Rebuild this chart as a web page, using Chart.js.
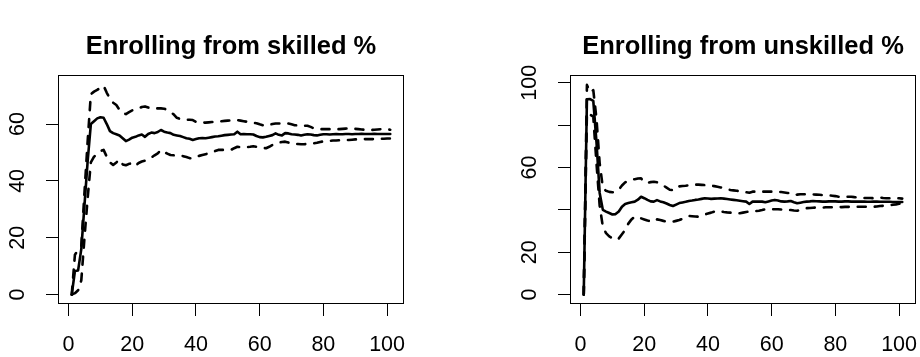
<!DOCTYPE html>
<html>
<head>
<meta charset="utf-8">
<script src="https://cdn.jsdelivr.net/npm/chart.js@4"></script>
<style>
html, body { margin: 0; padding: 0; background: #fff; overflow: hidden; }
#wrap { display: flex; width: 920px; height: 357px; }
canvas { display: block; }
</style>
</head>
<body>
<div id="wrap">
  <canvas id="skilled" width="460" height="357"></canvas>
  <canvas id="unskilled" width="460" height="357"></canvas>
</div>
<script>
// step index 1..101 on the x axis
var steps = Array.from({ length: 101 }, function (_, i) { return i + 1; });

var xTicks = [0, 20, 40, 60, 80, 100];
var skilledYTicks = [0, 20, 40, 60];
var skilledYLabels = ['0', '20', '40', '60'];
var unskilledYTicks = [0, 20, 40, 60, 80, 100];
var unskilledYLabels = ['0', '20', '', '60', '', '100'];

// Enrolling from skilled %
var skilledMean = [
  0, 8.3, 8.5, 16, 31.5, 47, 60, 61, 62, 62.4,
  62.2, 60, 57.5, 56.8, 56.4, 56, 55, 54, 54.5, 55.2,
  55.5, 56, 56.3, 55.5, 56.5, 57, 56.8, 57.2, 57.9, 57.3,
  57, 56.8, 56.2, 56, 55.8, 55.4, 55, 54.8, 54.4, 54.7,
  55, 55.1, 55, 55.2, 55.4, 55.6, 55.7, 55.9, 56.1, 56.2,
  56.3, 56.4, 57.3, 56.4, 56.5, 56.4, 56.4, 56.3, 55.8, 55.4,
  55.3, 55.5, 55.8, 56.1, 56.7, 56.2, 56, 56.8, 56.7, 56.4,
  56.3, 56.2, 56, 56.2, 56.4, 56.3, 56.1, 56, 56.2, 56.4,
  56.4, 56.3, 56.4, 56.5, 56.4, 56.4, 56.5, 56.5, 56.4, 56.5,
  56.5, 56.6, 56.5, 56.5, 56.5, 56.6, 56.5, 56.5, 56.5, 56.5,
  56.5
];
var skilledUpper = [
  0, 14, 15.7, 17, 36, 54, 70.5, 71.4, 72, 72.8,
  73.5, 71, 69, 67.5, 66.7, 65, 63.8, 63.5, 64.2, 64.8,
  65.2, 65.5, 66, 66.2, 65.8, 65.5, 65.5, 65.5, 65.5, 65.4,
  65, 64.2, 63.4, 62.2, 61.8, 61.6, 61.5, 61.5, 61.4, 60.8,
  60.6, 60.5, 60.5, 60.6, 60.7, 60.8, 60.9, 61, 61.1, 61.2,
  61.3, 61.4, 61.4, 61.2, 61, 60.8, 60.6, 60.4, 60.3, 59.9,
  59.6, 59.4, 59.7, 60, 60.2, 60.2, 60.2, 60.2, 60.2, 59.9,
  59.6, 59.5, 59.5, 59.4, 59.4, 59, 58.5, 58.2, 58.2, 58.2,
  58.2, 58.2, 58.2, 58.2, 58.2, 58.3, 58.4, 58.5, 58.5, 58.3,
  58.2, 58.1, 58, 57.9, 57.9, 58, 58.1, 58.2, 58.2, 58.1,
  58
];
var skilledLower = [
  0, 0.5, 1.5, 5, 20, 34, 46.5, 48.5, 49.5, 50.5,
  50.9, 48.5, 46.5, 45.6, 46.5, 47.5, 45.8, 45.5, 46, 46.2,
  45.3, 46.3, 46.8, 47.1, 47.5, 48.2, 49, 49.7, 50.9, 50.2,
  49.6, 49.1, 49, 48.9, 48.9, 48.7, 48.4, 48, 47.9, 48.5,
  48.8, 49.1, 49.4, 49.7, 50.1, 50.5, 50.9, 50.9, 50.9, 50.9,
  50.9, 51.5, 52, 51.9, 51.8, 51.9, 52, 52.2, 52, 51.8,
  51.6, 51.5, 52, 52.6, 53.1, 53.4, 53.7, 53.8, 53.5, 53.1,
  53, 53, 52.9, 52.9, 53, 53.1, 53.2, 53.4, 53.7, 53.9,
  54, 54.1, 54.2, 54.2, 54.3, 54.3, 54.4, 54.4, 54.5, 54.6,
  54.6, 54.6, 54.7, 54.7, 54.7, 54.7, 54.7, 54.8, 54.8, 54.9,
  54.9
];

// Enrolling from unskilled %
var unskilledMean = [
  0, 92.2, 92.3, 91.5, 72, 48, 40, 39.2, 38.5, 37.8,
  38, 39.2, 41.5, 42.8, 43.2, 43.6, 43.9, 44.8, 46.2, 45.5,
  44.7, 44, 43.9, 44.6, 44, 43.6, 43, 42.3, 41.8, 42.5,
  43.2, 43.5, 43.8, 44.2, 44.4, 44.7, 44.9, 45.2, 45.5, 45.4,
  45.2, 45.3, 45.4, 45.5, 45.3, 45.1, 44.9, 44.7, 44.5, 44.3,
  44.1, 43.9, 42.8, 43.9, 43.9, 43.9, 43.9, 43.6, 44, 44.4,
  44.7, 44.4, 44, 43.9, 44, 44.2, 43.6, 43.1, 43.4, 43.7,
  43.9, 44, 44.2, 44.1, 44, 43.9, 43.9, 44, 44.1, 44,
  43.9, 43.9, 44, 44, 43.9, 43.9, 43.9, 43.9, 43.9, 43.8,
  43.8, 43.9, 43.9, 43.8, 43.8, 43.8, 43.8, 43.7, 43.7, 43.7,
  43.7
];
var unskilledUpper = [
  0, 99, 95.5, 96.5, 83, 62, 50.5, 49, 48.5, 48.3,
  48.6, 49.5, 51.5, 53, 53.8, 54.2, 54.5, 54.8, 54.9, 53,
  52.8, 53.1, 53.3, 53, 52.5, 51.5, 50.5, 49.5, 49.3, 50.9,
  51.1, 51.3, 51.4, 51.6, 51.8, 51.9, 51.9, 51.8, 51.7, 51.7,
  51.5, 51.2, 50.9, 50.6, 50.2, 49.8, 49.4, 49.2, 49, 48.9,
  48.6, 48.3, 48.1, 48.6, 48.6, 48.6, 48.6, 48.6, 48.6, 48.6,
  48.6, 48.6, 48.4, 48.2, 48, 47.8, 47, 47.2, 47.4, 47.4,
  47.4, 47.4, 47.3, 47.2, 47.1, 47, 46.9, 46.8, 46.7, 46.5,
  46.2, 46.2, 46.2, 46.2, 46.2, 46, 45.9, 45.7, 45.6, 45.6,
  45.6, 45.5, 45.5, 45.8, 45.6, 45.5, 45.5, 45.5, 45.5, 45.5,
  45.3
];
var unskilledLower = [
  0, 86, 85, 84, 62, 42, 32, 29, 27.5, 26.6,
  25.8, 26.5, 28.5, 30.5, 33.5, 35.5, 36.8, 36.8, 36, 35.5,
  35, 34.6, 34.4, 35.5, 35.2, 34.8, 34.5, 34.4, 34.4, 34.8,
  35.2, 35.8, 36.5, 37.1, 37, 36.9, 36.8, 37.3, 37.8, 38.3,
  38.7, 39.2, 39.6, 39.3, 39, 38.8, 38.7, 38.6, 38.5, 38.4,
  38.7, 39, 39.2, 39.3, 39.4, 39.6, 39.9, 40.3, 40.3, 40.3,
  40.3, 40.3, 40.2, 40.1, 40, 39.9, 39.7, 39.6, 40, 40.4,
  40.8, 40.9, 41, 41.1, 41.1, 41.1, 41.2, 41.2, 41.2, 41.2,
  41.3, 41.3, 41.4, 41.4, 41.5, 41.5, 41.5, 41.5, 41.5, 41.5,
  41.5, 41.5, 41.6, 41.8, 41.9, 42, 42.2, 42.4, 42.6, 42.9,
  43.1
];

Chart.defaults.font.family = "'Liberation Sans', Arial, Helvetica, sans-serif";
Chart.defaults.color = '#000';

// R style box around the plot region
var boxPlugin = {
  id: 'box',
  afterDatasetsDraw: function (chart) {
    var a = chart.chartArea, ctx = chart.ctx;
    ctx.save();
    ctx.strokeStyle = '#000';
    ctx.lineWidth = 1;
    ctx.strokeRect(Math.round(a.left) - 0.5, Math.round(a.top) - 0.5,
      Math.round(a.right - a.left) + 1, Math.round(a.bottom - a.top) + 1);
    ctx.restore();
  }
};

function series(values, dashed) {
  return {
    data: values.map(function (v, i) { return { x: steps[i], y: v }; }),
    borderColor: '#000',
    borderWidth: 2.6,
    borderDash: dashed ? [8, 9] : [],
    borderCapStyle: 'round',
    borderJoinStyle: 'round',
    pointRadius: 0,
    tension: 0,
    fill: false
  };
}

function buildPanel(id, title, mean, upper, lower, yTicks, yLabels, yMin, yMax, axisWidth, labelPad, rightPad) {
  return new Chart(document.getElementById(id), {
    type: 'line',
    data: { datasets: [series(upper, true), series(lower, true), series(mean, false)] },
    options: {
      responsive: false,
      animation: false,
      events: [],
      layout: { padding: { left: 0, right: rightPad, top: 0, bottom: 0 } },
      plugins: {
        legend: { display: false },
        tooltip: { enabled: false },
        title: {
          display: true,
          text: title,
          fullSize: false,
          color: '#000',
          font: { size: 25.5, weight: 'bold', lineHeight: 1.2 },
          padding: { top: 31.7, bottom: 13.7 }
        }
      },
      scales: {
        x: {
          type: 'linear',
          min: -3,
          max: 105,
          afterBuildTicks: function (s) { s.ticks = xTicks.map(function (v) { return { value: v }; }); },
          afterFit: function (s) { s.height = 54; s.paddingLeft = 0; s.paddingRight = 0; },
          border: { display: false },
          grid: { drawOnChartArea: false, drawTicks: true, tickLength: 13, tickColor: '#000', tickWidth: 1 },
          ticks: {
            color: '#000', font: { size: 21.5 }, padding: 16, maxRotation: 0, autoSkip: false,
            callback: function (v) { return String(v); }
          }
        },
        y: {
          type: 'linear',
          min: yMin,
          max: yMax,
          afterBuildTicks: function (s) { s.ticks = yTicks.map(function (v) { return { value: v }; }); },
          afterFit: function (s) { s.width = axisWidth; s.paddingTop = 0; s.paddingBottom = 0; },
          border: { display: false },
          grid: { drawOnChartArea: false, drawTicks: true, tickLength: 13, tickColor: '#000', tickWidth: 1 },
          ticks: {
            color: '#000', font: { size: 21.5 }, padding: labelPad,
            minRotation: 90, maxRotation: 90, crossAlign: 'center', autoSkip: false,
            callback: function (v) { return yLabels[yTicks.indexOf(v)]; }
          }
        }
      }
    },
    plugins: [boxPlugin]
  });
}

buildPanel('skilled', 'Enrolling from skilled %', skilledMean, skilledUpper, skilledLower,
  skilledYTicks, skilledYLabels, -2.96, 76.9, 59, 16, 57);
buildPanel('unskilled', 'Enrolling from unskilled %', unskilledMean, unskilledUpper, unskilledLower,
  unskilledYTicks, unskilledYLabels, -3.97, 103.2, 111, 10, 5);
</script>
</body>
</html>
